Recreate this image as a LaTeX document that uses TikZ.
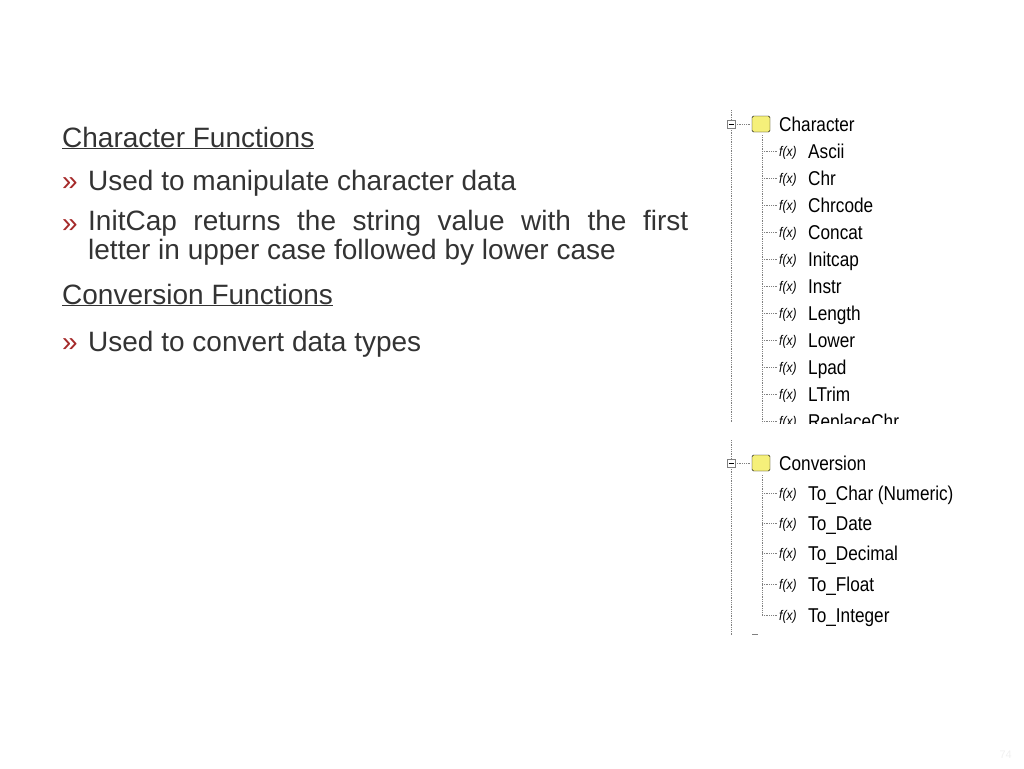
\documentclass[tikz,border=0pt]{standalone}
\usepackage{fontspec}
\setmainfont{Liberation Sans}
\newfontfamily\treefont[FakeStretch=0.86]{Liberation Sans}
\usepackage{xcolor}
\definecolor{bodytext}{HTML}{333333}
\definecolor{bulletred}{HTML}{A52A2A}
\definecolor{folderyellow}{HTML}{F5F07A}
\tikzset{
  heading/.style={anchor=base west, inner sep=0pt, text=bodytext, font=\fontsize{28}{29}\selectfont},
  bullet/.style={anchor=base west, inner sep=0pt, text=bulletred, font=\fontsize{28}{29}\selectfont},
  treeline/.style={densely dotted, gray, line width=0.8pt},
  treeitem/.style={anchor=base west, inner sep=0pt, font=\treefont\fontsize{20}{22}\selectfont},
  fx/.style={anchor=base west, inner sep=0pt, font=\treefont\fontsize{14}{15}\selectfont\itshape}
}
\newcommand{\treefolder}[2]{% x, y
  \draw[gray, fill=white] (#1-4,#2-4) rectangle (#1+4,#2+4);
  \draw[black] (#1-2.5,#2) -- (#1+2.5,#2);
  \draw[treeline] (#1+4,#2) -- (#1+20,#2);
  \draw[black, fill=folderyellow, rounded corners=1.5pt] (#1+21,#2-8) rectangle (#1+39,#2+8);
}
\begin{document}
\begin{tikzpicture}[x=1pt,y=-1pt]
    \useasboundingbox (0,0) rectangle (1024,768);

    % Left text
    \node[heading] (charhead) at (62,147) {\underline{Character Functions}};
    \node[bullet] (b1) at (62,190) {»};
    \node[heading] (t1) at (88,190) {Used to manipulate character data};
    \node[bullet] (b2) at (62,232) {»};
    \node[heading, anchor=north west] (t2) at (88,210) {\parbox[t]{600pt}{\fontsize{28}{29}\selectfont InitCap returns the string value with the first\linebreak letter in upper case followed by lower case}};
    \node[heading] (convhead) at (62,304) {\underline{Conversion Functions}};
    \node[bullet] (b3) at (62,351) {»};
    \node[heading] (t3) at (88,351) {Used to convert data types};

    % Character tree
    \begin{scope}
    \clip (700,100) rectangle (960,423);
    \draw[treeline] (731,110) -- (731,423);
    \draw[treeline] (762,135) -- (762,423);
    \treefolder{731}{124}
    \node[treeitem] (character) at (779,131) {Character};
    \foreach \name [count=\i] in {Ascii,Chr,Chrcode,Concat,Initcap,Instr,Length,Lower,Lpad,LTrim,ReplaceChr}{
      \pgfmathsetmacro{\yy}{124+27*\i}
      \draw[treeline] (762,\yy) -- (778,\yy);
      \node[fx] at (779,\yy+5) {f(x)};
      \node[treeitem] at (808,\yy+7) {\name};
    }
    \end{scope}

    % Conversion tree
    \draw[treeline] (731,440) -- (731,636);
    \draw[treeline] (762,475) -- (762,615);
    \treefolder{731}{463}
    \node[treeitem] (conversion) at (779,470) {Conversion};
    \foreach \name/\yy in {To\_Char (Numeric)/493,To\_Date/523,To\_Decimal/553,To\_Float/584,To\_Integer/615}{
      \draw[treeline] (762,\yy) -- (778,\yy);
      \node[fx] at (779,\yy+5) {f(x)};
      \node[treeitem] at (808,\yy+7) {\name};
    }
    \draw[gray] (752,634) -- (758,634);

    % Page number
    \node[anchor=base east, inner sep=0pt, text=black!6, font=\fontsize{11}{13}\selectfont] (pagenum) at (1012,758) {74};
\end{tikzpicture}
\end{document}
